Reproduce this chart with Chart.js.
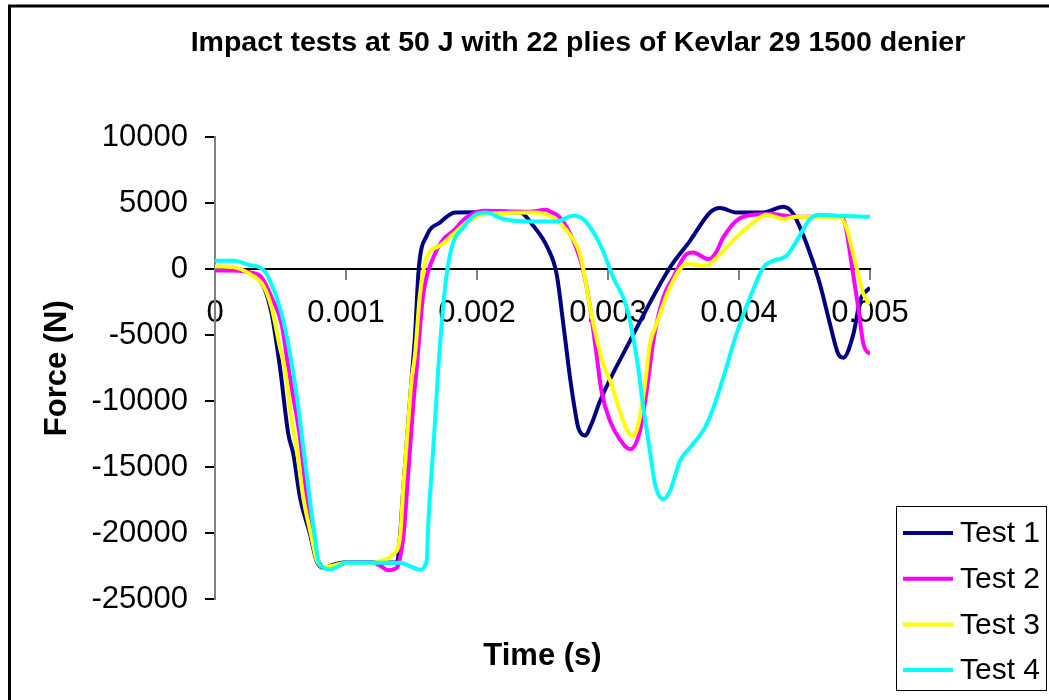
<!DOCTYPE html>
<html><head><meta charset="utf-8">
<script src="https://cdn.jsdelivr.net/npm/chart.js@4"></script>
<style>
html,body{margin:0;padding:0;background:#fff;overflow:hidden;width:1049px;height:700px}
#wrap{position:absolute;left:0;top:0;width:1156px;height:700px}
</style>
</head><body><div id="wrap"><canvas id="c" width="1156" height="700"></canvas></div>
<script>
const chartTitle = 'Impact tests at 50 J with 22 plies of Kevlar 29 1500 denier';
const xAxisTitle = 'Time (s)';
const yAxisTitle = 'Force (N)';
const seriesNames = ['Test 1', 'Test 2', 'Test 3', 'Test 4'];
const seriesColors = ['#000080', '#FF00FF', '#FFFF00', '#00FFFF'];
const xTickLabels = ['0', '0.001', '0.002', '0.003', '0.004', '0.005'];
const yTickLabels = ['-25000', '-20000', '-15000', '-10000', '-5000', '0', '5000', '10000'];

const test1Time = [0, 0.00015, 0.0003, 0.00037, 0.000433, 0.000496, 0.00056, 0.000598, 0.000649, 0.000725, 0.000776, 0.000827, 0.0009, 0.00098, 0.0012, 0.00139, 0.00141, 0.001437, 0.001476, 0.0015, 0.001527, 0.001555, 0.001616, 0.001718, 0.001832, 0.002, 0.00233, 0.00242, 0.00254, 0.002608, 0.002659, 0.00271, 0.002748, 0.002773, 0.002824, 0.002875, 0.002939, 0.003168, 0.003473, 0.003626, 0.003779, 0.003855, 0.00398, 0.004185, 0.004338, 0.004415, 0.004517, 0.004618, 0.004695, 0.004758, 0.004796, 0.004873, 0.004924, 0.005];
const test1Force = [100, 50, -500, -1300, -3400, -7450, -12500, -14000, -17300, -20050, -22100, -22600, -22400, -22200, -22200, -22200, -20500, -16600, -11500, -8400, -5000, 0, 2520, 3530, 4290, 4300, 4290, 3400, 1600, -380, -4170, -8200, -10700, -12000, -12600, -11700, -9980, -5430, 120, 2140, 4290, 4620, 4290, 4290, 4720, 4170, 1890, -1140, -4170, -6440, -6700, -4920, -2400, -1390];

const test2Time = [0, 0.00014, 0.000267, 0.000356, 0.000432, 0.000509, 0.00056, 0.0006, 0.000649, 0.0007, 0.00075, 0.0008, 0.00085, 0.00092, 0.001, 0.00121, 0.00127, 0.00132, 0.00137, 0.0014, 0.00144, 0.001476, 0.001514, 0.00154, 0.00159, 0.001667, 0.00174, 0.00182, 0.00192, 0.002048, 0.0024, 0.00253, 0.002557, 0.002634, 0.002736, 0.002812, 0.002863, 0.002912, 0.00295, 0.003015, 0.00309, 0.003168, 0.003244, 0.003295, 0.003346, 0.003422, 0.003498, 0.0036, 0.00365, 0.003765, 0.003817, 0.00388, 0.00398, 0.004058, 0.004237, 0.00444, 0.00478, 0.00481, 0.00486, 0.00491, 0.00495, 0.005];
const test2Force = [-100, -100, -250, -630, -2150, -4170, -7450, -9800, -12760, -17300, -20830, -22300, -22650, -22500, -22250, -22250, -22500, -22800, -22700, -22350, -20080, -15280, -10230, -7450, -1890, 880, 2200, 2900, 3910, 4420, 4350, 4500, 4360, 3910, 2140, -130, -2900, -6440, -9220, -11490, -12880, -13640, -12250, -9220, -5430, -2150, -630, 1140, 1260, 760, 1140, 2400, 3660, 4040, 4170, 3960, 3960, 3400, 380, -2900, -5680, -6440];

const test3Time = [0, 0.00014, 0.000267, 0.000369, 0.000432, 0.000496, 0.000534, 0.000585, 0.000622, 0.000674, 0.000738, 0.000776, 0.00083, 0.0009, 0.00099, 0.0012, 0.00126, 0.00136, 0.001412, 0.001437, 0.001476, 0.0015, 0.001527, 0.001565, 0.001616, 0.001718, 0.00182, 0.00192, 0.002048, 0.00243, 0.00258, 0.002685, 0.002786, 0.002824, 0.002863, 0.002912, 0.002964, 0.003027, 0.00309, 0.003155, 0.003193, 0.003232, 0.003282, 0.00332, 0.00337, 0.003473, 0.0036, 0.003753, 0.003829, 0.00398, 0.00411, 0.00421, 0.00434, 0.00444, 0.00477, 0.00482, 0.004885, 0.00495, 0.005];
const test3Force = [200, 150, -380, -1260, -2900, -5940, -7580, -11490, -13510, -17300, -20330, -22000, -22550, -22450, -22250, -22250, -22100, -21600, -20330, -16540, -11490, -8460, -6440, -1890, 880, 1770, 2650, 3530, 4170, 4290, 3910, 2900, 1140, -630, -2900, -5180, -7200, -8710, -10740, -12380, -12630, -11740, -8710, -5680, -4170, -1390, 380, 250, 880, 2400, 3530, 4110, 3790, 3960, 3910, 3150, 630, -1890, -2650];

const test4Time = [0, 0.00014, 0.000267, 0.000344, 0.000395, 0.000509, 0.000573, 0.000622, 0.000674, 0.000725, 0.000763, 0.000789, 0.000827, 0.000878, 0.00094, 0.000992, 0.00141, 0.001565, 0.001616, 0.001629, 0.001654, 0.00168, 0.001705, 0.001756, 0.001807, 0.001895, 0.001998, 0.00207, 0.0022, 0.002405, 0.002608, 0.002736, 0.00281, 0.002939, 0.00304, 0.003143, 0.003219, 0.00327, 0.00332, 0.003359, 0.003422, 0.003473, 0.00355, 0.003626, 0.00374, 0.003805, 0.00388, 0.00398, 0.004095, 0.004185, 0.00426, 0.004363, 0.00444, 0.004542, 0.004618, 0.004745, 0.005];
const test4Force = [630, 630, 300, 120, -380, -3400, -6440, -9470, -13510, -17550, -20330, -22100, -22600, -22730, -22500, -22230, -22230, -22730, -22100, -19070, -15280, -11490, -7450, -1390, 1640, 3150, 4170, 4290, 3790, 3600, 3600, 4040, 3790, 1890, -630, -2900, -6700, -10490, -13770, -16290, -17420, -16800, -14520, -13510, -12000, -10490, -8210, -4920, -1890, 120, 630, 1010, 2140, 3790, 4110, 4040, 3960];

const seriesTimes = [test1Time, test2Time, test3Time, test4Time];
const seriesForces = [test1Force, test2Force, test3Force, test4Force];

const FONT = '"Liberation Sans", Arial, sans-serif';
Chart.defaults.color = '#000';
Chart.defaults.font.family = FONT;

const datasets = seriesNames.map((name, i) => ({
  label: name,
  data: seriesTimes[i].map((t, k) => ({x: t, y: seriesForces[i][k]})),
  borderColor: seriesColors[i],
  backgroundColor: seriesColors[i],
  borderWidth: 4,
  pointRadius: 0,
  fill: false,
  cubicInterpolationMode: 'monotone',
  order: seriesNames.length - i
}));

const framePlugin = {
  id: 'frame',
  beforeDraw(chart) {
    const ctx = chart.ctx;
    ctx.save();
    ctx.fillStyle = '#fff';
    ctx.fillRect(0, 0, chart.width, chart.height);
    ctx.strokeStyle = '#000';
    ctx.lineWidth = 3;
    ctx.strokeRect(9.5, 6, chart.width + 100, chart.height + 100);
    ctx.restore();
  }
};

const boxLegendPlugin = {
  id: 'boxLegend',
  afterDraw(chart) {
    const ctx = chart.ctx;
    const left = 896, top = 506, w = 150, h = 184, row = 45.7, first = 533;
    ctx.save();
    ctx.fillStyle = '#fff';
    ctx.fillRect(left, top, w, h);
    ctx.strokeStyle = '#000';
    ctx.lineWidth = 1;
    ctx.strokeRect(left + 0.5, top + 0.5, w, h);
    ctx.font = '30px ' + FONT;
    ctx.textBaseline = 'middle';
    ctx.textAlign = 'left';
    chart.data.datasets.forEach((ds, i) => {
      const y = first + i * row;
      ctx.strokeStyle = ds.borderColor;
      ctx.lineWidth = 4;
      ctx.beginPath();
      ctx.moveTo(903, y);
      ctx.lineTo(953, y);
      ctx.stroke();
      ctx.fillStyle = '#000';
      ctx.fillText(ds.label, 960, y + 1);
    });
    ctx.restore();
  }
};

new Chart(document.getElementById('c'), {
  type: 'line',
  data: {datasets},
  plugins: [framePlugin, boxLegendPlugin],
  options: {
    responsive: false,
    animation: false,
    layout: {padding: 0},
    plugins: {
      legend: {display: false},
      tooltip: {enabled: false},
      title: {
        display: true,
        text: chartTitle,
        color: '#000',
        font: {family: FONT, size: 28.5, weight: 'bold'},
        padding: {top: 25.9, bottom: 76.9}
      }
    },
    scales: {
      x: {
        type: 'linear',
        position: {y: 0},
        min: 0, max: 0.005,
        ticks: {
          stepSize: 0.001, autoSkip: false, maxRotation: 0, padding: 16,
          color: '#000', font: {family: FONT, size: 31},
          callback: (v) => xTickLabels[Math.round(v * 1000)]
        },
        grid: {display: true, drawOnChartArea: false, drawTicks: true, tickLength: 10, color: '#808080', lineWidth: 2},
        border: {display: true, color: '#000', width: 2},
        title: {display: false}
      },
      x2: {
        type: 'linear',
        position: 'bottom',
        display: true,
        ticks: {display: false},
        grid: {display: false, drawTicks: false},
        border: {display: false},
        title: {
          display: true, text: xAxisTitle, color: '#000',
          font: {family: FONT, size: 31, weight: 'bold'},
          padding: {top: 38, bottom: 25.4}
        }
      },
      y: {
        type: 'linear',
        position: 'left',
        min: -25000, max: 10000,
        ticks: {
          stepSize: 5000, padding: 17, color: '#000', font: {family: FONT, size: 31},
          callback: (v) => yTickLabels[Math.round((v + 25000) / 5000)]
        },
        grid: {display: true, drawOnChartArea: false, drawTicks: true, tickLength: 10, color: '#000', lineWidth: 2},
        border: {display: true, color: '#808080', width: 2},
        title: {
          display: true, text: yAxisTitle, color: '#000',
          font: {family: FONT, size: 31, weight: 'bold'},
          padding: {top: 39, bottom: 0}
        },
        afterFit(s) { s.width = 215; }
      },
      yR: {
        type: 'linear',
        position: 'right',
        display: true,
        ticks: {display: false},
        grid: {display: false, drawTicks: false},
        border: {display: false},
        afterFit(s) { s.width = 286; }
      }
    }
  }
});
</script>
</body></html>
